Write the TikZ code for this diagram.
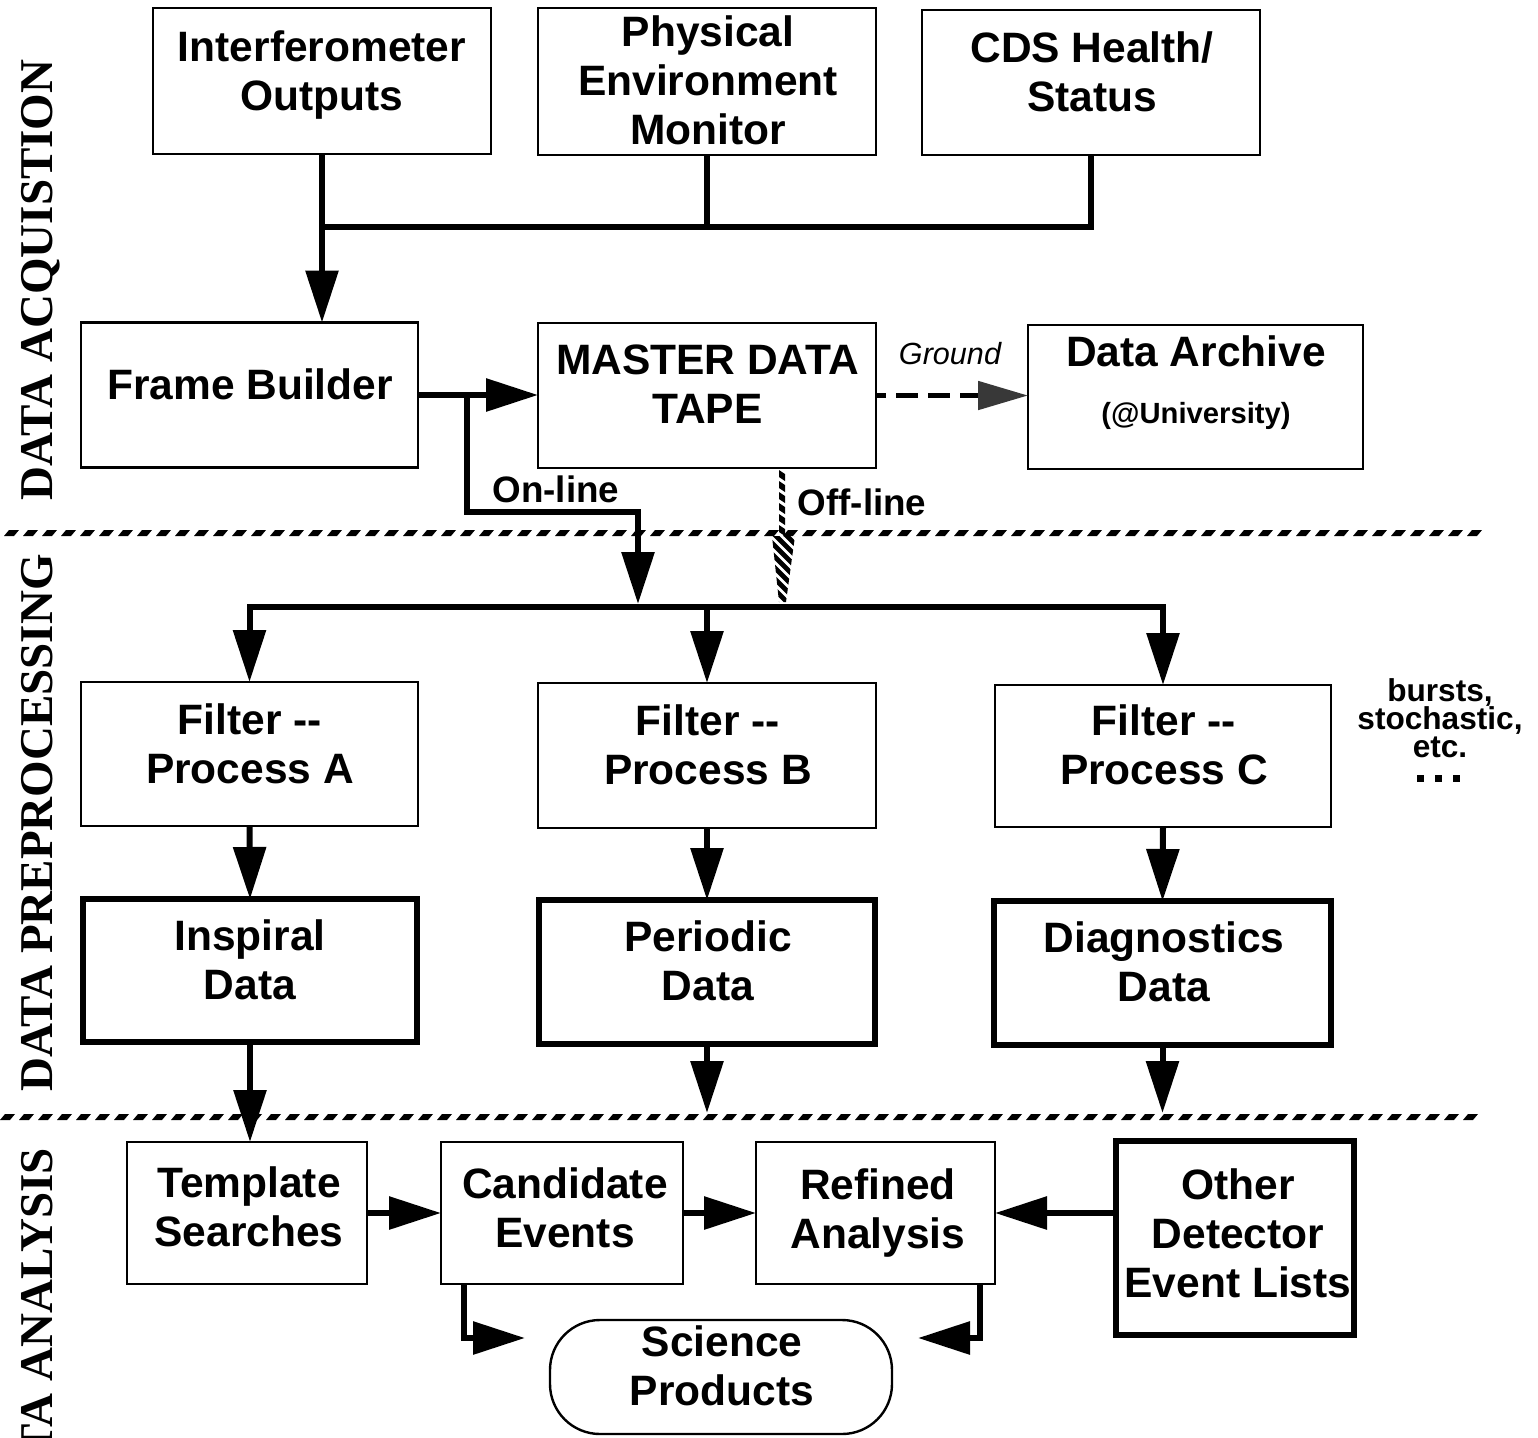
\documentclass[tikz,border=0pt]{standalone}
\usepackage{fontspec}
\setmainfont{Liberation Sans}
\newfontfamily\sidefont{Liberation Serif}
\usetikzlibrary{arrows.meta}
% strut whose height minus depth equals the cap height, so a node centres on its caps
\newcommand\tstrut{\rule[-0.2em]{0pt}{0.916em}}

\begin{document}
\begin{tikzpicture}[x=0.5pt,y=-0.5pt,
  box/.style={draw, line width=1.2pt, inner sep=0pt, outer sep=0pt},
  thickbox/.style={box, line width=3pt},
  wh/.style 2 args={minimum width=#1*0.5pt, minimum height=#2*0.5pt},
  lbl/.style={inner sep=0pt, align=center, yshift=-1.6pt,
    font={\bfseries\fontsize{21.25}{24.5}\selectfont\lineskiplimit=-50pt}},
  small/.style={inner sep=0pt, align=center, yshift=-1pt,
    font={\bfseries\fontsize{14.6}{17}\selectfont}},
  tag/.style={inner sep=0pt, yshift=-0.8pt, font={\bfseries\fontsize{18.4}{20}\selectfont}},
  side/.style={inner sep=0pt, anchor=base, rotate=90,
    font={\sidefont\bfseries\fontsize{23.5}{26}\selectfont}},
  conn/.style={line width=3pt},
  arr/.style={conn, -{Triangle[length=26pt,width=16pt]}},
  sepdash/.style={fill=black}
]
\useasboundingbox (0,0) rectangle (1538,1437);
\fill[white] (0,0) rectangle (1538,1437);

% ---------- section labels ----------
\begin{scope}
  \clip (0,0) rectangle (1538,1437);
  \node[side] (labAcq) at (53,280) {DATA ACQUISTION};
  \node[side] (labPre) at (53,823) {DATA PREPROCESSING};
  \node[side] (labAna) at (53,1334) {DATA ANALYSIS};
\end{scope}

% ---------- section separators ----------
\foreach \i in {0,...,77} {
  \fill[sepdash] (4+19*\i,536) -- ++(10,0) -- ++(5,-6) -- ++(-10,0) -- cycle;
}
\foreach \i in {0,...,77} {
  \fill[sepdash] (0+19*\i,1120) -- ++(10,0) -- ++(5,-6) -- ++(-10,0) -- cycle;
}

% ---------- data acquisition ----------
\node[box, wh={338}{146}] (ifo) at (322,81) {};
\node[lbl] (ifoT) at (322,72) {\tstrut Interferometer\\\tstrut Outputs};
\node[box, wh={338}{147}] (pem) at (707,81.5) {};
\node[lbl] (pemT) at (708,81.5) {\tstrut Physical\\\tstrut Environment\\\tstrut Monitor};
\node[box, wh={338}{145}] (cds) at (1091,82.5) {};
\node[lbl] (cdsT) at (1092,72.5) {\tstrut CDS Health/\\\tstrut Status};

\node[box, wh={337}{145}] (fb) at (249.5,395) {};
\node[lbl] (fbT) at (250,385) {\tstrut Frame Builder};
\node[box, wh={338}{145}] (mdt) at (707,395.5) {};
\node[lbl] (mdtT) at (707.5,385) {\tstrut MASTER DATA\\\tstrut TAPE};
\node[box, wh={335}{144}] (arc) at (1195.5,397) {};
\node[lbl] (arcT) at (1196,352) {\tstrut Data Archive};
\node[small] (arcU) at (1196,414) {\tstrut (@University)};

% ---------- preprocessing ----------
\node[box, wh={337}{144}] (fA) at (249.5,754) {};
\node[lbl] (fAT) at (250,744.5) {\tstrut Filter -{}-\\\tstrut Process A};
\node[box, wh={338}{145}] (fB) at (707,755.5) {};
\node[lbl] (fBT) at (708,745.5) {\tstrut Filter -{}-\\\tstrut Process B};
\node[box, wh={336}{142}] (fC) at (1163,756) {};
\node[lbl] (fCT) at (1164,745.5) {\tstrut Filter -{}-\\\tstrut Process C};

\node[thickbox, wh={334}{143}] (dI) at (250,970.5) {};
\node[lbl] (dIT) at (250,961) {\tstrut Inspiral\\\tstrut Data};
\node[thickbox, wh={336}{144}] (dP) at (707,972) {};
\node[lbl] (dPT) at (708,962) {\tstrut Periodic\\\tstrut Data};
\node[thickbox, wh={337}{144}] (dD) at (1162.5,973) {};
\node[lbl] (dDT) at (1164,963) {\tstrut Diagnostics\\\tstrut Data};

\node[inner sep=0pt, align=center,
  font={\bfseries\fontsize{15.8}{13.9}\selectfont\lineskiplimit=-50pt}]
  (more) at (1440,721)
  {\rule[-0.17em]{0pt}{0.69em}bursts,\\\rule[-0.17em]{0pt}{0.69em}stochastic,\\\rule[-0.17em]{0pt}{0.69em}etc.};
\foreach \cx in {1420.5,1438.5,1456} {
  \fill (\cx-3.5,775) rectangle (\cx+3.5,782);
}

% ---------- analysis ----------
\node[box, wh={240}{142}] (ts) at (247,1213) {};
\node[lbl] (tsT) at (249,1208) {\tstrut Template\\\tstrut Searches};
\node[box, wh={242}{142}] (ce) at (562,1213) {};
\node[lbl] (ceT) at (565,1208.5) {\tstrut Candidate\\\tstrut Events};
\node[box, wh={239}{142}] (ra) at (875.5,1213) {};
\node[lbl] (raT) at (878,1209.5) {\tstrut Refined\\\tstrut Analysis};
\node[thickbox, wh={238}{194}] (od) at (1235,1238) {};
\node[lbl] (odT) at (1238,1234) {\tstrut Other\\\tstrut Detector\\\tstrut Event Lists};
\node[box, wh={342}{114}, rounded corners=25pt] (sp) at (721,1377) {};
\node[lbl] (spT) at (722,1366.5) {\tstrut Science\\\tstrut Products};

% ---------- helper points ----------
\coordinate (busA) at (0,227);
\coordinate (busB) at (0,607);
\coordinate (on1) at (467,512);
\coordinate (on2) at (638,512);
\coordinate (sepB) at (0,1113);
\coordinate (cl) at (464,1338);
\coordinate (cr) at (980,1338);

% ---------- connectors ----------
\draw[conn] (cds.south) |- (ifo.south |- busA);
\draw[conn] (pem.south) -- (pem.south |- busA);
\draw[arr] (ifo.south) -- (ifo.south |- fb.north);

\draw[arr] (fb.east) -- (fb.east -| mdt.west);
\draw[arr, shorten >=1.5pt] (fb.east -| on1) -- (on1) -- (on2) -- (on2 |- busB);
\node[tag] (onT) at (556,491) {\tstrut On-line};

\draw[line width=2.5pt, dash pattern=on 11pt off 5pt, dash phase=6pt,
  -{Triangle[length=25pt,width=14pt,fill=black!78,color=black!78]}]
  (mdt.east) -- (mdt.east -| arc.west);
\node[inner sep=0pt, yshift=-0.8pt, font={\itshape\fontsize{15.3}{17}\selectfont}] (gndT) at (950,355) {\tstrut Ground};

% off-line link: a hatched stripe that widens into a tapering wedge
\foreach \k in {0,...,5} {
  \fill (779,470+11*\k) -- (785,474+11*\k) -- (785,481+11*\k) -- (779,477+11*\k) -- cycle;
}
\begin{scope}
  \clip (772,536) -- (795,536) -- (786,602) -- (779,602) -- cycle;
  \foreach \k in {0,...,9} {
    \draw[line width=2.4pt] (762,500+11*\k) -- (800,538+11*\k);
  }
\end{scope}
\node[tag] (offT) at (862,504.5) {\tstrut Off-line};

\draw[conn, {Triangle[length=26pt,width=16pt]}-{Triangle[length=26pt,width=16pt]}]
  (fA.north) |- (fC.north |- busB) -- (fC.north);
\draw[arr] (fB.north |- busB) -- (fB.north);

\draw[arr] (fA.south) -- (dI.north);
\draw[arr] (fB.south) -- (dP.north);
\draw[arr] (fC.south) -- (dD.north);

\draw[arr] (dI.south) -- (dI.south |- ts.north);
\draw[arr] (dP.south) -- (dP.south |- sepB);
\draw[arr] (dD.south) -- (dD.south |- sepB);

\draw[arr] (ts.east) -- (ce.west);
\draw[arr] (ce.east) -- (ra.west);
\draw[arr] (od.west |- ra.east) -- (ra.east);

\draw[arr, shorten >=12.5pt] (ce.south -| cl) |- (sp.west |- cl);
\draw[arr, shorten >=13pt] (ra.south -| cr) |- (sp.east |- cr);
\end{tikzpicture}
\end{document}
